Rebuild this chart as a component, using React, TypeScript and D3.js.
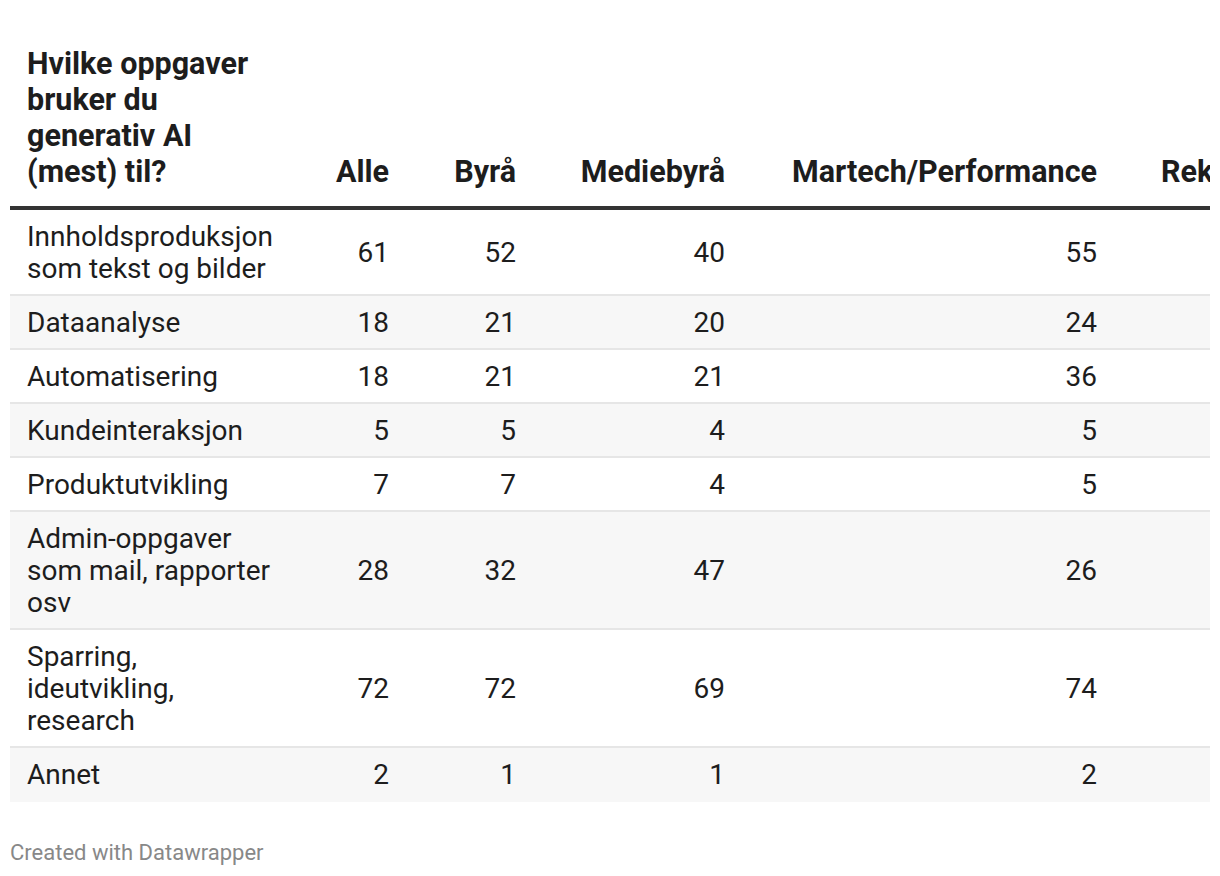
import React from "react";
import * as d3 from "d3";

const title = "Hvilke oppgaver\nbruker du\ngenerativ AI\n(mest) til?";
const columns = ["Alle", "Byrå", "Mediebyrå", "Martech/Performance", "Rekruttering"];
const categories = [
  "Innholdsproduksjon\nsom tekst og bilder",
  "Dataanalyse",
  "Automatisering",
  "Kundeinteraksjon",
  "Produktutvikling",
  "Admin-oppgaver\nsom mail, rapporter\nosv",
  "Sparring,\nideutvikling,\nresearch",
  "Annet",
];
const alle = [61, 18, 18, 5, 7, 28, 72, 2];
const byra = [52, 21, 21, 5, 7, 32, 72, 1];
const mediebyra = [40, 20, 21, 4, 4, 47, 69, 1];
const martech = [55, 24, 36, 5, 5, 26, 74, 2];
const footer = "Created with Datawrapper";

const series = [alle, byra, mediebyra, martech];

const W = 1220;
const H = 876;
const left = 10;
const right = 1210;
const headerLineY = 208;
const lineH = 32;
const rowPad = 22;
const borderW = 2;
const font = "Roboto, 'Noto Sans', sans-serif";
const bodySize = 28;
const headSize = 30.5;

export default function App() {
  const lines = categories.map((c) => c.split("\n"));
  const heights = lines.map((l) => l.length * lineH + rowPad);
  const tops = [0, ...d3.cumsum(heights)].map((v) => v + headerLineY + 2);
  // column right edges (text anchors)
  const colX = d3.scaleOrdinal<string, number>().domain(columns).range([389, 516, 725, 1097, 1300]);
  const colStart = 1161;
  const titleLines = title.split("\n");

  return (
    <svg
      width={W}
      height={H}
      style={{ position: "absolute", left: 0, top: 0, background: "#fff" }}
      fontFamily={font}
    >
      <defs>
        <clipPath id="clip">
          <rect x={0} y={0} width={right} height={H} />
        </clipPath>
      </defs>
      <g clipPath="url(#clip)">
        {titleLines.map((t, i) => (
          <text
            key={i}
            x={27}
            y={182 - (titleLines.length - 1 - i) * 36}
            fontSize={headSize}
            fontWeight={700}
            fill="#1d1d1d"
          >
            {t}
          </text>
        ))}
        {columns.map((c, i) => (
          <text
            key={c}
            x={i === columns.length - 1 ? colStart : colX(c)}
            y={182}
            fontSize={headSize}
            fontWeight={700}
            fill="#1d1d1d"
            textAnchor={i === columns.length - 1 ? "start" : "end"}
          >
            {c}
          </text>
        ))}
        <rect x={left} y={headerLineY - 2} width={right - left} height={4} fill="#333" />

        {categories.map((c, r) => {
          const y0 = tops[r];
          const h = heights[r];
          const cy = y0 + h / 2;
          const ls = lines[r];
          return (
            <g key={c}>
              <rect x={left} y={y0} width={right - left} height={h} fill={r % 2 === 1 ? "#f7f7f7" : "#ffffff"} />
              {r < categories.length - 1 && (
                <rect x={left} y={y0 + h - borderW} width={right - left} height={borderW} fill="#e6e6e6" />
              )}
              {ls.map((t, i) => (
                <text
                  key={i}
                  x={27}
                  y={cy - borderW / 2 + (i - (ls.length - 1) / 2) * lineH}
                  dominantBaseline="central"
                  fontSize={bodySize}
                  fill="#1d1d1d"
                >
                  {t}
                </text>
              ))}
              {series.map((s, k) => (
                <text
                  key={k}
                  x={colX(columns[k])}
                  y={cy - borderW / 2}
                  dominantBaseline="central"
                  textAnchor="end"
                  fontSize={bodySize}
                  fill="#1d1d1d"
                >
                  {s[r]}
                </text>
              ))}
            </g>
          );
        })}
      </g>
      <text x={10} y={852} dominantBaseline="central" fontSize={22} fill="#888">
        {footer}
      </text>
    </svg>
  );
}
